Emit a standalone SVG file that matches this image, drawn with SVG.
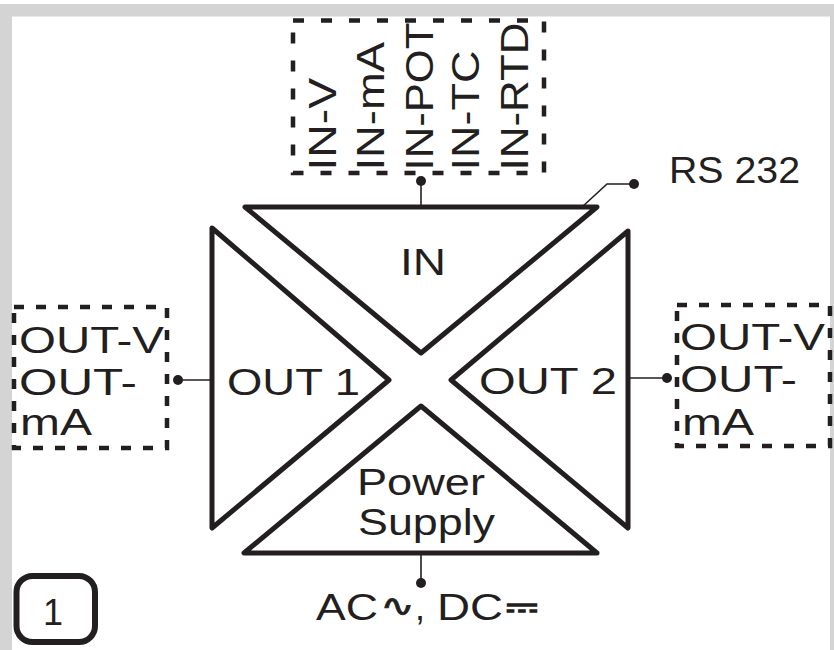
<svg xmlns="http://www.w3.org/2000/svg" width="834" height="650" viewBox="0 0 834 650">
<style>
.t{font-family:"Liberation Sans",Arial,sans-serif;font-size:36px;fill:#231f20}
.tr{font-family:"Liberation Sans",Arial,sans-serif;font-size:39.5px;fill:#231f20}
.sym{font-family:"DejaVu Sans",sans-serif;fill:#231f20}
.tri{fill:none;stroke:#231f20;stroke-width:5;stroke-linejoin:round}
.dash{fill:none;stroke:#231f20;stroke-width:4.5}
.wire{fill:none;stroke:#231f20;stroke-width:1.6}
.dot{fill:#231f20}
</style>
<rect x="0" y="0" width="834" height="650" fill="#ffffff"/>
<g id="frame" fill="#d4d4d4">
<rect x="0" y="4" width="834" height="12.5"/>
<rect x="0" y="4" width="12" height="646"/>
<rect x="830" y="4" width="4" height="646"/>
</g>
<g id="connectors">
<line class="wire" x1="421" y1="181" x2="421" y2="207"/>
<polyline class="wire" points="582,207 607,184 634,184"/>
<circle class="dot" cx="634" cy="184" r="5"/>
<circle class="dot" cx="421" cy="181" r="5"/>
<line class="wire" x1="178" y1="380" x2="212" y2="380"/>
<circle class="dot" cx="178" cy="380" r="5"/>
<line class="wire" x1="628" y1="378" x2="667" y2="378"/>
<circle class="dot" cx="667" cy="378" r="5"/>
<line class="wire" x1="421" y1="553" x2="421" y2="583"/>
<circle class="dot" cx="421" cy="583" r="5"/>
</g>
<g id="inputs">
<rect class="dash" x="293" y="20.5" width="251" height="152.5" stroke-dasharray="11 17"/>
<text class="tr" transform="translate(335.5,170.5) rotate(-90)" textLength="92.5" lengthAdjust="spacingAndGlyphs">IN-V</text>
<text class="tr" transform="translate(383.5,170.5) rotate(-90)" textLength="128.5" lengthAdjust="spacingAndGlyphs">IN-mA</text>
<text class="tr" transform="translate(432.5,170.5) rotate(-90)" textLength="148" lengthAdjust="spacingAndGlyphs">IN-POT</text>
<text class="tr" transform="translate(478.5,170.5) rotate(-90)" textLength="120" lengthAdjust="spacingAndGlyphs">IN-TC</text>
<text class="tr" transform="translate(527.5,170.5) rotate(-90)" textLength="148" lengthAdjust="spacingAndGlyphs">IN-RTD</text>
</g>
<g id="rs232">
<text class="t" x="669" y="183" textLength="131" lengthAdjust="spacingAndGlyphs">RS 232</text>
</g>
<g id="in">
<polygon class="tri" points="245,207 597,207 421,353"/>
<text class="t" x="400" y="275" textLength="46" lengthAdjust="spacingAndGlyphs">IN</text>
</g>
<g id="out1">
<polygon class="tri" points="212,228 389,380 212,528"/>
<text class="t" x="227" y="395" textLength="133" lengthAdjust="spacingAndGlyphs">OUT 1</text>
</g>
<g id="out2">
<polygon class="tri" points="628,231 451,380 628,528"/>
<text class="t" x="479" y="394" textLength="138" lengthAdjust="spacingAndGlyphs">OUT 2</text>
</g>
<g id="power">
<polygon class="tri" points="421,406 244,553 597,553"/>
<text class="t" x="357" y="495" textLength="128" lengthAdjust="spacingAndGlyphs">Power</text>
<text class="t" x="358" y="535" textLength="137" lengthAdjust="spacingAndGlyphs">Supply</text>
</g>
<g id="out1-options">
<rect class="dash" x="14" y="307" width="153" height="141" stroke-dasharray="10 12"/>
<text class="t" x="19" y="353" textLength="145" lengthAdjust="spacingAndGlyphs">OUT-V</text>
<text class="t" x="19" y="395" textLength="118" lengthAdjust="spacingAndGlyphs">OUT-</text>
<text class="t" x="20" y="435" textLength="72" lengthAdjust="spacingAndGlyphs">mA</text>
</g>
<g id="out2-options">
<rect class="dash" x="677" y="305" width="153" height="141" stroke-dasharray="10 12"/>
<text class="t" x="680" y="350" textLength="145" lengthAdjust="spacingAndGlyphs">OUT-V</text>
<text class="t" x="680" y="392" textLength="117" lengthAdjust="spacingAndGlyphs">OUT-</text>
<text class="t" x="682" y="435" textLength="72" lengthAdjust="spacingAndGlyphs">mA</text>
</g>
<g id="supply">
<text class="t" x="316" y="620" textLength="62" lengthAdjust="spacingAndGlyphs">AC</text>
<text class="sym" transform="translate(397.5,616) scale(1.35,1)" text-anchor="middle" font-size="30" stroke="#231f20" stroke-width="0.8">∿</text>
<text class="t" x="415" y="620">,</text>
<text class="t" x="437" y="620" textLength="66" lengthAdjust="spacingAndGlyphs">DC</text>
<text class="sym" x="506" y="621" font-size="46" font-weight="bold" textLength="32" lengthAdjust="spacingAndGlyphs">⎓</text>
</g>
<g id="badge">
<rect x="16.5" y="576" width="78.5" height="66" rx="16" fill="none" stroke="#231f20" stroke-width="6"/>
<text class="t" x="43" y="625" font-size="37">1</text>
</g>
</svg>
